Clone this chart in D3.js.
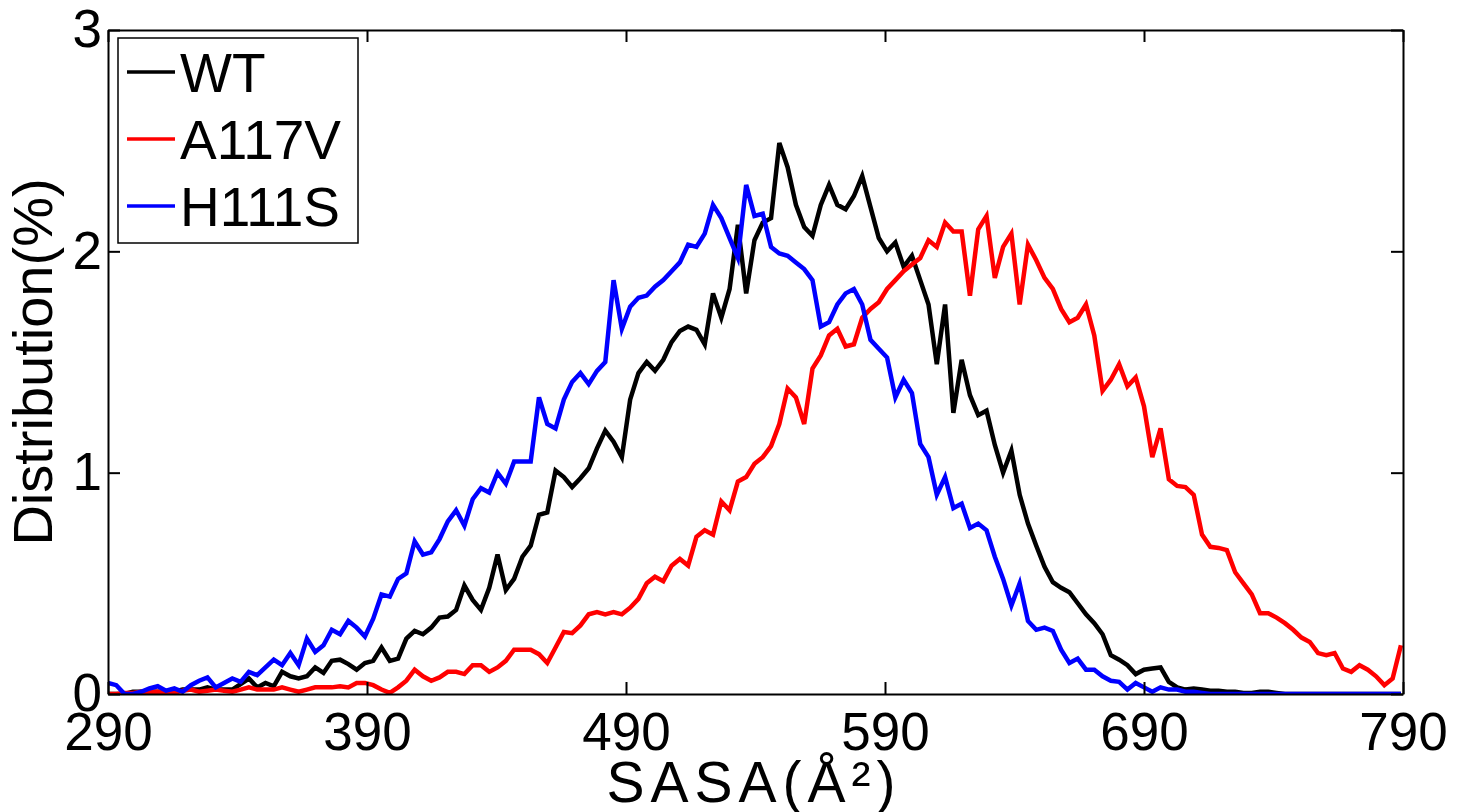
<!DOCTYPE html>
<html>
<head>
<meta charset="utf-8">
<script src="https://cdn.jsdelivr.net/npm/d3@7"></script>
<style>
  body { margin: 0; background: #fff; }
  text { font-family: Arial, "Liberation Sans", sans-serif; fill: #000; }
</style>
</head>
<body>
<div class="viz"></div>
<script>
var W = 1466, H = 812;

// SASA bin centres (Å²)
var sasa = [290, 293.2, 296.4, 299.6, 302.8, 306, 309.2, 312.4, 315.6, 318.8,
  322, 325.2, 328.4, 331.6, 334.8, 338, 341.2, 344.4, 347.6, 350.8,
  354, 357.2, 360.4, 363.6, 366.8, 370, 373.2, 376.4, 379.6, 382.8,
  386, 389.2, 392.4, 395.6, 398.8, 402, 405.2, 408.4, 411.6, 414.8,
  418, 421.2, 424.4, 427.6, 430.8, 434, 437.2, 440.4, 443.6, 446.8,
  450, 453.2, 456.4, 459.6, 462.8, 466, 469.2, 472.4, 475.6, 478.8,
  482, 485.2, 488.4, 491.6, 494.8, 498, 501.2, 504.4, 507.6, 510.8,
  514, 517.2, 520.4, 523.6, 526.8, 530, 533.2, 536.4, 539.6, 542.8,
  546, 549.2, 552.4, 555.6, 558.8, 562, 565.2, 568.4, 571.6, 574.8,
  578, 581.2, 584.4, 587.6, 590.8, 594, 597.2, 600.4, 603.6, 606.8,
  610, 613.2, 616.4, 619.6, 622.8, 626, 629.2, 632.4, 635.6, 638.8,
  642, 645.2, 648.4, 651.6, 654.8, 658, 661.2, 664.4, 667.6, 670.8,
  674, 677.2, 680.4, 683.6, 686.8, 690, 693.2, 696.4, 699.6, 702.8,
  706, 709.2, 712.4, 715.6, 718.8, 722, 725.2, 728.4, 731.6, 734.8,
  738, 741.2, 744.4, 747.6, 750.8, 754, 757.2, 760.4, 763.6, 766.8,
  770, 773.2, 776.4, 779.6, 782.8, 786, 789.2];

// distribution (%)
var wt = [0, 0, 0, 0.01, 0.01, 0.01, 0.01, 0.01, 0.01, 0.02,
  0.02, 0.02, 0.03, 0.02, 0.02, 0.02, 0.045, 0.07, 0.03, 0.05,
  0.035, 0.10, 0.08, 0.07, 0.08, 0.12, 0.095, 0.15, 0.155, 0.135,
  0.11, 0.14, 0.15, 0.21, 0.15, 0.16, 0.25, 0.285, 0.27, 0.30,
  0.345, 0.35, 0.38, 0.49, 0.425, 0.38, 0.48, 0.63, 0.47, 0.52,
  0.62, 0.67, 0.81, 0.82, 1.01, 0.98, 0.935, 0.975, 1.02, 1.11,
  1.19, 1.14, 1.07, 1.33, 1.45, 1.50, 1.46, 1.51, 1.59, 1.64,
  1.66, 1.645, 1.58, 1.81, 1.70, 1.83, 2.12, 1.81, 2.05, 2.13,
  2.15, 2.49, 2.38, 2.21, 2.11, 2.07, 2.21, 2.30, 2.21, 2.19,
  2.25, 2.34, 2.20, 2.06, 2.00, 2.04, 1.93, 1.98, 1.87, 1.76,
  1.49, 1.76, 1.27, 1.51, 1.35, 1.26, 1.28, 1.125, 1.00, 1.10,
  0.90, 0.77, 0.67, 0.575, 0.505, 0.48, 0.46, 0.41, 0.36, 0.32,
  0.27, 0.175, 0.155, 0.13, 0.09, 0.11, 0.115, 0.12, 0.055, 0.03,
  0.02, 0.025, 0.02, 0.015, 0.015, 0.01, 0.01, 0.005, 0.005, 0.01,
  0.01, 0.005, 0, 0, 0, 0, 0, 0, 0, 0,
  0, 0, 0, 0, 0, 0, 0];

var a117v = [0, 0, 0.005, 0.005, 0.01, 0.01, 0.01, 0.01, 0.005, 0.015,
  0.02, 0.01, 0.015, 0.02, 0.015, 0.01, 0.02, 0.03, 0.02, 0.02,
  0.02, 0.03, 0.02, 0.01, 0.02, 0.03, 0.03, 0.03, 0.035, 0.03,
  0.05, 0.05, 0.04, 0.02, 0.005, 0.03, 0.06, 0.11, 0.08, 0.06,
  0.075, 0.10, 0.10, 0.09, 0.13, 0.13, 0.10, 0.12, 0.15, 0.20,
  0.20, 0.20, 0.18, 0.14, 0.21, 0.28, 0.275, 0.31, 0.36, 0.37,
  0.36, 0.37, 0.36, 0.39, 0.43, 0.50, 0.53, 0.51, 0.58, 0.61,
  0.58, 0.71, 0.74, 0.72, 0.87, 0.83, 0.96, 0.98, 1.04, 1.07,
  1.12, 1.22, 1.38, 1.34, 1.22, 1.47, 1.53, 1.62, 1.65, 1.57,
  1.58, 1.70, 1.74, 1.77, 1.83, 1.87, 1.91, 1.94, 1.97, 2.05,
  2.02, 2.13, 2.09, 2.09, 1.80, 2.10, 2.16, 1.88, 2.02, 2.08,
  1.76, 2.03, 1.96, 1.88, 1.83, 1.74, 1.68, 1.70, 1.76, 1.62,
  1.37, 1.42, 1.49, 1.39, 1.43, 1.30, 1.07, 1.20, 0.97, 0.94,
  0.935, 0.90, 0.72, 0.665, 0.66, 0.65, 0.55, 0.50, 0.45, 0.365,
  0.365, 0.345, 0.32, 0.29, 0.255, 0.235, 0.185, 0.175, 0.185, 0.115,
  0.10, 0.13, 0.11, 0.08, 0.04, 0.07, 0.22];

var h111s = [0.05, 0.04, 0.0, 0.0, 0.01, 0.025, 0.035, 0.015, 0.025, 0.01,
  0.04, 0.06, 0.075, 0.03, 0.05, 0.07, 0.055, 0.10, 0.085, 0.12,
  0.155, 0.13, 0.185, 0.13, 0.25, 0.19, 0.22, 0.29, 0.27, 0.33,
  0.30, 0.26, 0.34, 0.45, 0.44, 0.52, 0.545, 0.69, 0.63, 0.64,
  0.70, 0.78, 0.83, 0.76, 0.88, 0.93, 0.91, 1.00, 0.95, 1.05,
  1.05, 1.05, 1.34, 1.22, 1.20, 1.33, 1.41, 1.45, 1.40, 1.46,
  1.50, 1.87, 1.65, 1.75, 1.79, 1.80, 1.84, 1.87, 1.91, 1.95,
  2.03, 2.02, 2.08, 2.21, 2.15, 2.06, 1.97, 2.30, 2.16, 2.17,
  2.02, 1.99, 1.98, 1.95, 1.92, 1.87, 1.66, 1.68, 1.76, 1.81,
  1.83, 1.76, 1.60, 1.56, 1.52, 1.34, 1.42, 1.36, 1.13, 1.07,
  0.90, 0.98, 0.84, 0.86, 0.75, 0.77, 0.74, 0.62, 0.52, 0.40,
  0.50, 0.33, 0.29, 0.30, 0.285, 0.20, 0.14, 0.16, 0.11, 0.11,
  0.08, 0.06, 0.055, 0.02, 0.05, 0.03, 0.01, 0.03, 0.02, 0.02,
  0.01, 0.01, 0.005, 0, 0, 0, 0, 0, 0, 0,
  0, 0, 0, 0, 0, 0, 0, 0, 0, 0,
  0, 0, 0, 0, 0, 0, 0];

var seriesNames = ["WT", "A117V", "H111S"];
var seriesColors = ["#000000", "#ff0000", "#0000ff"];
var seriesValues = [wt, a117v, h111s];

var xTicks = [290, 390, 490, 590, 690, 790];
var yTicks = [0, 1, 2, 3];

// plot box (window.top is read-only, so no "top" here)
var plotL = 108, plotR = 1403, plotT = 30, plotB = 694;

var x = d3.scaleLinear().domain([290, 790]).range([plotL, plotR]);
var y = d3.scaleLinear().domain([0, 3]).range([plotB, plotT]);

var svg = d3.select('.viz')
            .append("svg")
            .attr("width", W)
            .attr("height", H);

svg.append("clipPath").attr("id", "plotclip")
   .append("rect")
   .attr("x", plotL).attr("y", plotT)
   .attr("width", plotR - plotL).attr("height", plotB - plotT);

var line = d3.line()
             .x(function (d, i) { return x(sasa[i]); })
             .y(function (d) { return y(d); });

svg.selectAll('path.curve')
   .data(seriesValues)
   .enter()
   .append('path')
   .attr('class', 'curve')
   .attr('d', line)
   .attr('clip-path', 'url(#plotclip)')
   .attr('fill', 'none')
   .attr('stroke', function (d, i) { return seriesColors[i]; })
   .attr('stroke-width', 4.5)
   .attr('stroke-linejoin', 'miter');

// box axes, ticks pointing inward (matlab style)
function styleAxis(g) {
  g.select('.domain').attr('stroke', '#000').attr('stroke-width', 2);
  g.selectAll('.tick line').attr('stroke', '#000').attr('stroke-width', 2);
  g.selectAll('.tick text').attr('font-size', 53).attr('fill', '#000')
   .attr('font-family', 'Arial, "Liberation Sans", sans-serif');
}

svg.append('g')
   .attr('transform', 'translate(0,' + plotB + ')')
   .call(d3.axisBottom(x).tickValues(xTicks).tickSize(-12).tickSizeOuter(0).tickPadding(18))
   .call(styleAxis);

svg.append('g')
   .attr('transform', 'translate(0,' + plotT + ')')
   .call(d3.axisTop(x).tickValues(xTicks).tickSize(-12).tickSizeOuter(0).tickFormat(''))
   .call(styleAxis);

svg.append('g')
   .attr('transform', 'translate(' + plotL + ',0)')
   .call(d3.axisLeft(y).tickValues(yTicks).tickSize(-12).tickSizeOuter(0).tickPadding(6)
           .tickFormat(d3.format('d')))
   .call(styleAxis);

svg.append('g')
   .attr('transform', 'translate(' + plotR + ',0)')
   .call(d3.axisRight(y).tickValues(yTicks).tickSize(-12).tickSizeOuter(0).tickFormat(''))
   .call(styleAxis);

// axis titles
svg.append('text')
   .attr('x', 754)
   .attr('y', 802)
   .attr('text-anchor', 'middle')
   .attr('font-size', 57)
   .attr('letter-spacing', 6)
   .text('SASA(Å²)');

svg.append('text')
   .attr('transform', 'translate(52,' + (plotT + plotB) / 2 + ') rotate(-90)')
   .attr('text-anchor', 'middle')
   .attr('font-size', 56)
   .text('Distribution(%)');

// legend
var legend = svg.append('g');
legend.append('rect')
      .attr('x', 118).attr('y', 38)
      .attr('width', 240).attr('height', 205)
      .attr('fill', '#fff')
      .attr('stroke', '#000')
      .attr('stroke-width', 1.5);

var item = legend.selectAll('g.item')
                 .data(seriesNames)
                 .enter()
                 .append('g')
                 .attr('class', 'item')
                 .attr('transform', function (d, i) { return 'translate(0,' + (72 + i * 67) + ')'; });

item.append('line')
    .attr('x1', 127).attr('x2', 175)
    .attr('y1', 0).attr('y2', 0)
    .attr('stroke', function (d, i) { return seriesColors[i]; })
    .attr('stroke-width', 3.5);

item.append('text')
    .attr('x', 180)
    .attr('y', 20)
    .attr('font-size', 55)
    .text(function (d) { return d; });
</script>
</body>
</html>
